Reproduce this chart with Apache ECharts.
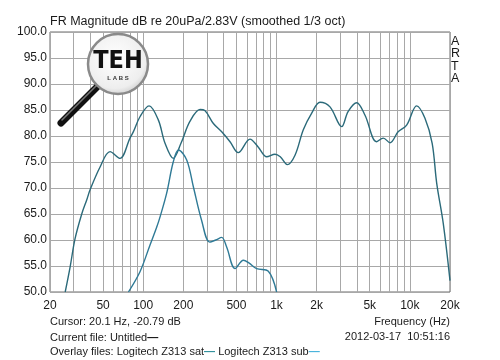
<!DOCTYPE html>
<html><head><meta charset="utf-8">
<script src="https://cdn.jsdelivr.net/npm/echarts@6/dist/echarts.min.js"></script>
<style>html,body{margin:0;padding:0;background:#fff}#c{width:500px;height:360px}</style>
</head><body><div id="c"></div>
<script>
// ---- data ----
const satFreq = [26, 28.3, 30.8, 34.6, 37.7, 39.9, 47.4, 56.4, 67, 79.6, 84.3, 94.6, 110.6, 129.8, 145.8, 168, 192, 224, 267, 290, 336, 388, 448, 516, 632, 728, 844, 974, 1067, 1204, 1376, 1588, 1836, 2118, 2518, 3080, 3440, 3990, 4610, 5620, 6320, 7100, 8160, 9460, 11240, 12980, 14700, 15900, 17800, 20000];
const satDb   = [50, 54.8, 60.2, 65.0, 67.7, 69.6, 74.0, 77.0, 75.7, 79.6, 80.8, 83.7, 85.8, 83.1, 78.6, 75.7, 78.6, 82.8, 85.1, 84.9, 82.4, 80.8, 78.9, 76.8, 79.4, 77.9, 76.0, 76.5, 76.0, 74.5, 76.3, 81.2, 84.4, 86.5, 85.6, 81.8, 84.7, 86.4, 84.0, 78.9, 79.6, 78.7, 80.8, 82.1, 85.8, 83.4, 78.6, 70.9, 63.2, 52.2];
const subFreq = [77.5, 94.6, 112, 126, 134, 150, 168, 184, 212, 238, 274, 315, 350, 388, 422, 489, 564, 620, 710, 868, 1002];
const subDb   = [50, 53.9, 58.9, 62.4, 64.5, 69.0, 75.0, 77.3, 75.4, 70.2, 63.8, 59.6, 60.0, 60.5, 58.7, 54.5, 56.1, 55.6, 54.5, 54.0, 50];
const gridFreqs = [20,30,40,50,60,70,80,90,100,200,300,400,500,600,700,800,900,1000,2000,3000,4000,5000,6000,7000,8000,9000,10000,20000];
const labelFreqs = [20,50,100,200,500,1000,2000,5000,10000,20000];
const yMin = 50, yMax = 100, yStep = 5;
const titleText = 'FR Magnitude dB re 20uPa/2.83V (smoothed 1/3 oct)';
const seriesNames = ['Logitech Z313 sat', 'Logitech Z313 sub'];

const FONT = '"Liberation Sans", Arial, sans-serif';
const TXT = '#1a1a1a';
const satColor = '#2b6a7a', subColor = '#2f7a96';

function pairs(xs, ys){ return xs.map((x,i)=>[x, ys[i]]); }

const chart = echarts.init(document.getElementById('c'), null, {renderer:'canvas'});
chart.setOption({
  animation:false,
  backgroundColor:'#fff',
  grid:{left:50, right:50, top:32, bottom:68, show:true, borderColor:'#6a6a6a', borderWidth:1, backgroundColor:'transparent'},
  xAxis:{
    type:'log', logBase:10, min:20, max:20000,
    axisLine:{show:false},
    axisTick:{show:false, customValues:gridFreqs},
    axisLabel:{customValues:labelFreqs, color:TXT, fontFamily:FONT, fontSize:12, margin:8,
      formatter:v=> v>=1000 ? (v/1000)+'k' : String(v)},
    splitLine:{show:true, lineStyle:{color:'#a8a8a8', width:1}},
    minorSplitLine:{show:false}
  },
  yAxis:{
    type:'value', min:yMin, max:yMax, interval:yStep,
    axisLine:{show:false}, axisTick:{show:false},
    axisLabel:{color:TXT, fontFamily:FONT, fontSize:12, margin:3, formatter:v=>v.toFixed(1)},
    splitLine:{show:true, lineStyle:{color:'#a8a8a8', width:1}}
  },
  series:[
    {name:seriesNames[0], type:'line', data:pairs(satFreq, satDb), smooth:0.35, showSymbol:false, clip:true,
     lineStyle:{color:satColor, width:1.4}, z:3},
    {name:seriesNames[1], type:'line', data:pairs(subFreq, subDb), smooth:0.35, showSymbol:false, clip:true,
     lineStyle:{color:subColor, width:1.4}, z:3}
  ],
  graphic:[
    {type:'text', left:50, top:15, style:{text:titleText, fill:TXT, font:'12.5px '+FONT}},
    {type:'text', left:451, top:35, style:{text:'A\nR\nT\nA', fill:TXT, font:'12.5px '+FONT, lineHeight:12.4, align:'center', width:12}},
    {type:'text', left:50, top:316, style:{text:'Cursor: 20.1 Hz, -20.79 dB', fill:TXT, font:'11px '+FONT}},
    {type:'text', right:50, top:316, style:{text:'Frequency (Hz)', fill:TXT, font:'11px '+FONT}},
    {type:'text', right:50, top:331.5, style:{text:'2012-03-17  10:51:16', fill:TXT, font:'11px '+FONT}},
    {type:'text', left:50, top:332, style:{text:'{a|Current file: Untitled}{k|—}', rich:{a:{fill:TXT, font:'11px '+FONT}, k:{fill:'#111', font:'bold 11px '+FONT}}}},
    {type:'text', left:50, top:346.5, style:{text:'{a|Overlay files: '+seriesNames[0]+'}{s|—}{a| '+seriesNames[1]+'}{u|—}',
      rich:{a:{fill:TXT, font:'11px '+FONT}, s:{fill:'#2f8f9c', font:'bold 11px '+FONT}, u:{fill:'#46b2dc', font:'bold 11px '+FONT}}}},
    // logo
    {type:'line', shape:{x1:98, y1:86, x2:61, y2:123}, style:{stroke:'#111', lineWidth:7, lineCap:'round'}, z:10},
    {type:'line', shape:{x1:96, y1:86, x2:62, y2:120}, style:{stroke:'#777', lineWidth:1.5, lineCap:'round'}, z:11},
    {type:'circle', shape:{cx:118, cy:64, r:30}, style:{
      fill:new echarts.graphic.RadialGradient(0.45,0.4,0.7,[{offset:0,color:'#ffffff'},{offset:0.7,color:'#eeeeee'},{offset:1,color:'#b8b8b8'}]),
      stroke:'#8a8a8a', lineWidth:2.5}, z:12},
    {type:'text', x:118, y:61, style:{text:'TEH', fill:'#111', font:'bold 25px "Liberation Sans Narrow", "DejaVu Sans Condensed", sans-serif', align:'center', verticalAlign:'middle'}, z:13},
    {type:'text', x:118, y:78, style:{text:'L A B S', fill:'#333', font:'bold 6px '+FONT, align:'center', verticalAlign:'middle'}, z:13}
  ]
});
</script></body></html>
